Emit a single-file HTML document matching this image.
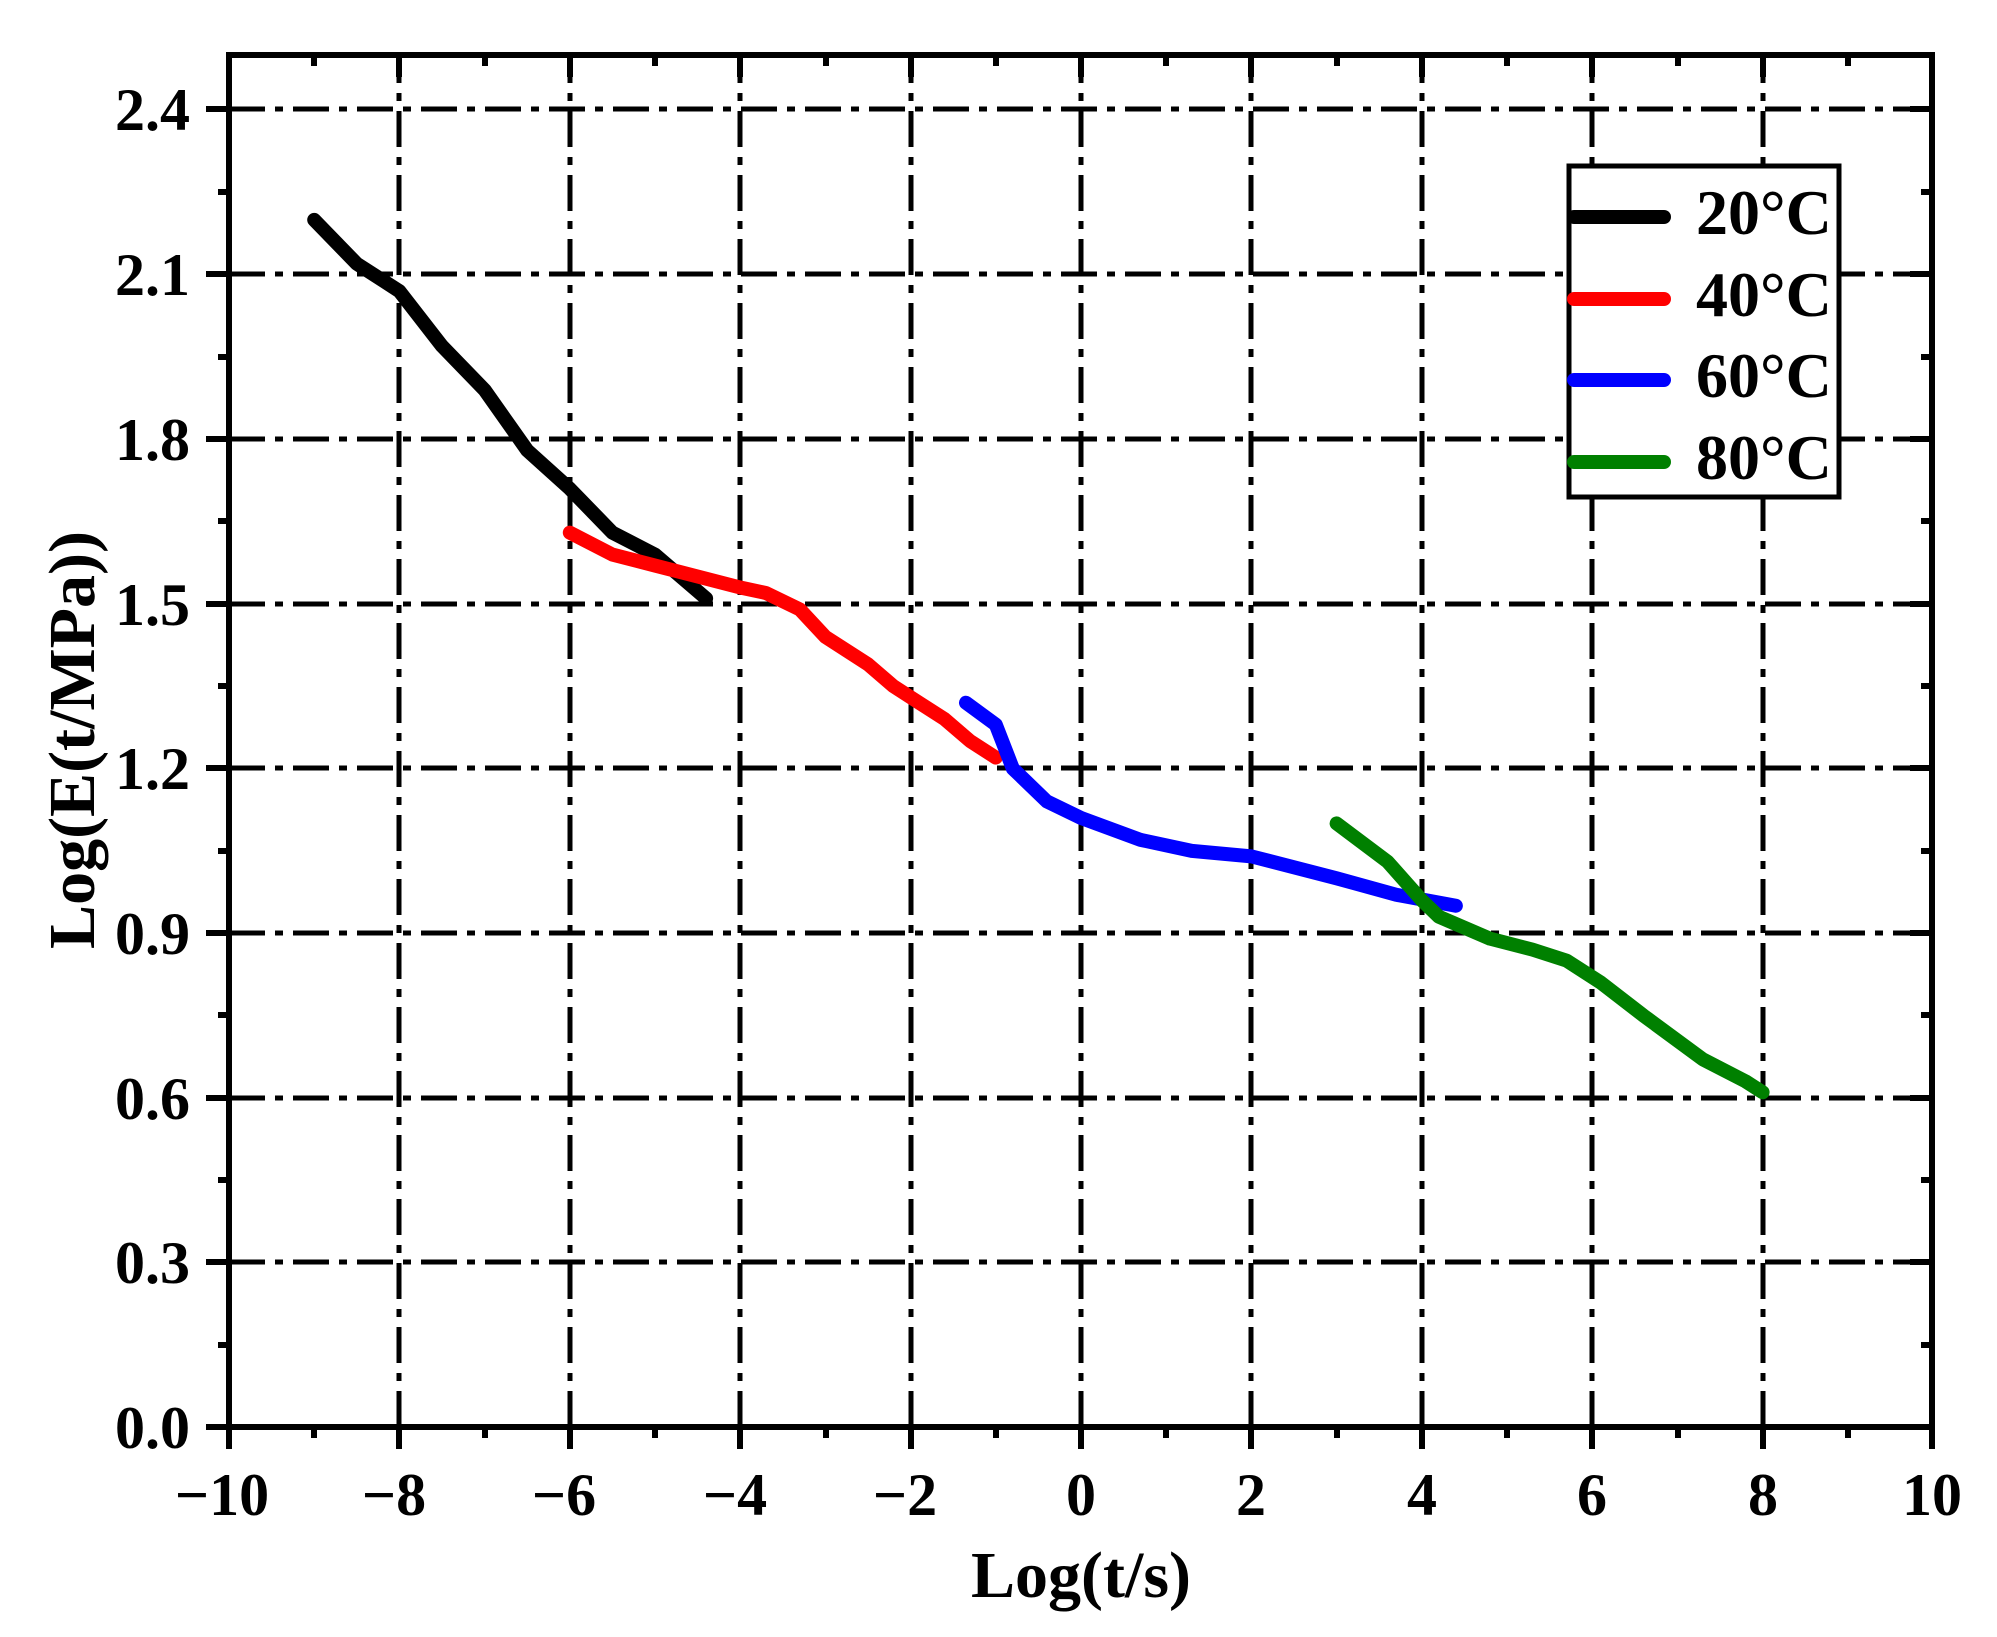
<!DOCTYPE html>
<html><head><meta charset="utf-8"><style>
html,body{margin:0;padding:0;background:#fff;}
svg{display:block;}
text{font-family:"Liberation Serif",serif;font-weight:bold;fill:#000;}
</style></head><body>
<svg width="1997" height="1637" viewBox="0 0 1997 1637" xmlns="http://www.w3.org/2000/svg">
<g stroke="#000" stroke-width="5" stroke-dasharray="36,10,8,10" fill="none">
<line x1="229" y1="1262" x2="1932" y2="1262"/>
<line x1="229" y1="1098" x2="1932" y2="1098"/>
<line x1="229" y1="933" x2="1932" y2="933"/>
<line x1="229" y1="768" x2="1932" y2="768"/>
<line x1="229" y1="604" x2="1932" y2="604"/>
<line x1="229" y1="439" x2="1932" y2="439"/>
<line x1="229" y1="274" x2="1932" y2="274"/>
<line x1="229" y1="109" x2="1932" y2="109"/>
<line x1="399" y1="1427" x2="399" y2="55"/>
<line x1="570" y1="1427" x2="570" y2="55"/>
<line x1="740" y1="1427" x2="740" y2="55"/>
<line x1="911" y1="1427" x2="911" y2="55"/>
<line x1="1081" y1="1427" x2="1081" y2="55"/>
<line x1="1251" y1="1427" x2="1251" y2="55"/>
<line x1="1422" y1="1427" x2="1422" y2="55"/>
<line x1="1592" y1="1427" x2="1592" y2="55"/>
<line x1="1763" y1="1427" x2="1763" y2="55"/>
</g>
<g transform="translate(229,1427) scale(85.2,-548.7)" fill="none" stroke-width="14" stroke-linejoin="round" stroke-linecap="round">
<polyline vector-effect="non-scaling-stroke" stroke="#000" points="1,2.2 1.5,2.12 2,2.07 2.5,1.97 3,1.89 3.5,1.78 4,1.71 4.5,1.63 5,1.59 5.6,1.51"/>
<polyline vector-effect="non-scaling-stroke" stroke="#ff0000" points="4,1.63 4.5,1.59 5,1.57 5.5,1.55 6,1.53 6.3,1.52 6.7,1.49 7,1.44 7.5,1.39 7.8,1.35 8.1,1.32 8.4,1.29 8.7,1.25 9,1.22"/>
<polyline vector-effect="non-scaling-stroke" stroke="#0000ff" points="8.65,1.32 9,1.28 9.2,1.2 9.6,1.14 10,1.11 10.7,1.07 11.3,1.05 12,1.04 13,1.0 13.7,0.97 14.4,0.95"/>
<polyline vector-effect="non-scaling-stroke" stroke="#008000" points="13,1.1 13.6,1.03 14,0.96 14.2,0.93 14.8,0.89 15.3,0.87 15.7,0.85 16.1,0.81 16.6,0.75 17.3,0.67 17.8,0.63 18,0.61"/>
</g>
<rect x="229" y="55" width="1703" height="1372" fill="none" stroke="#000" stroke-width="6"/>
<g stroke="#000" stroke-width="6">
<line x1="206" y1="1427" x2="229" y2="1427"/><line x1="206" y1="1262" x2="229" y2="1262"/><line x1="206" y1="1098" x2="229" y2="1098"/><line x1="206" y1="933" x2="229" y2="933"/><line x1="206" y1="768" x2="229" y2="768"/><line x1="206" y1="604" x2="229" y2="604"/><line x1="206" y1="439" x2="229" y2="439"/><line x1="206" y1="274" x2="229" y2="274"/><line x1="206" y1="109" x2="229" y2="109"/>
<line x1="218" y1="1345" x2="229" y2="1345"/><line x1="218" y1="1180" x2="229" y2="1180"/><line x1="218" y1="1015" x2="229" y2="1015"/><line x1="218" y1="851" x2="229" y2="851"/><line x1="218" y1="686" x2="229" y2="686"/><line x1="218" y1="521" x2="229" y2="521"/><line x1="218" y1="357" x2="229" y2="357"/><line x1="218" y1="192" x2="229" y2="192"/>
<line x1="1910" y1="1262" x2="1932" y2="1262"/><line x1="1910" y1="1098" x2="1932" y2="1098"/><line x1="1910" y1="933" x2="1932" y2="933"/><line x1="1910" y1="768" x2="1932" y2="768"/><line x1="1910" y1="604" x2="1932" y2="604"/><line x1="1910" y1="439" x2="1932" y2="439"/><line x1="1910" y1="274" x2="1932" y2="274"/><line x1="1910" y1="109" x2="1932" y2="109"/>
<line x1="1921" y1="1345" x2="1932" y2="1345"/><line x1="1921" y1="1180" x2="1932" y2="1180"/><line x1="1921" y1="1015" x2="1932" y2="1015"/><line x1="1921" y1="851" x2="1932" y2="851"/><line x1="1921" y1="686" x2="1932" y2="686"/><line x1="1921" y1="521" x2="1932" y2="521"/><line x1="1921" y1="357" x2="1932" y2="357"/><line x1="1921" y1="192" x2="1932" y2="192"/>
<line x1="229" y1="1427" x2="229" y2="1449"/><line x1="399" y1="1427" x2="399" y2="1449"/><line x1="570" y1="1427" x2="570" y2="1449"/><line x1="740" y1="1427" x2="740" y2="1449"/><line x1="911" y1="1427" x2="911" y2="1449"/><line x1="1081" y1="1427" x2="1081" y2="1449"/><line x1="1251" y1="1427" x2="1251" y2="1449"/><line x1="1422" y1="1427" x2="1422" y2="1449"/><line x1="1592" y1="1427" x2="1592" y2="1449"/><line x1="1763" y1="1427" x2="1763" y2="1449"/><line x1="1932" y1="1427" x2="1932" y2="1449"/>
<line x1="314" y1="1427" x2="314" y2="1438"/><line x1="485" y1="1427" x2="485" y2="1438"/><line x1="655" y1="1427" x2="655" y2="1438"/><line x1="826" y1="1427" x2="826" y2="1438"/><line x1="996" y1="1427" x2="996" y2="1438"/><line x1="1166" y1="1427" x2="1166" y2="1438"/><line x1="1337" y1="1427" x2="1337" y2="1438"/><line x1="1507" y1="1427" x2="1507" y2="1438"/><line x1="1678" y1="1427" x2="1678" y2="1438"/><line x1="1848" y1="1427" x2="1848" y2="1438"/>
<line x1="399" y1="55" x2="399" y2="77"/><line x1="570" y1="55" x2="570" y2="77"/><line x1="740" y1="55" x2="740" y2="77"/><line x1="911" y1="55" x2="911" y2="77"/><line x1="1081" y1="55" x2="1081" y2="77"/><line x1="1251" y1="55" x2="1251" y2="77"/><line x1="1422" y1="55" x2="1422" y2="77"/><line x1="1592" y1="55" x2="1592" y2="77"/><line x1="1763" y1="55" x2="1763" y2="77"/>
<line x1="314" y1="55" x2="314" y2="66"/><line x1="485" y1="55" x2="485" y2="66"/><line x1="655" y1="55" x2="655" y2="66"/><line x1="826" y1="55" x2="826" y2="66"/><line x1="996" y1="55" x2="996" y2="66"/><line x1="1166" y1="55" x2="1166" y2="66"/><line x1="1337" y1="55" x2="1337" y2="66"/><line x1="1507" y1="55" x2="1507" y2="66"/><line x1="1678" y1="55" x2="1678" y2="66"/><line x1="1848" y1="55" x2="1848" y2="66"/>
</g>
<g font-size="60" text-anchor="end">
<text x="190" y="1448">0.0</text><text x="190" y="1283">0.3</text><text x="190" y="1119">0.6</text><text x="190" y="954">0.9</text><text x="190" y="789">1.2</text><text x="190" y="625">1.5</text><text x="190" y="460">1.8</text><text x="190" y="295">2.1</text><text x="190" y="130">2.4</text>
</g>
<g font-size="60" text-anchor="middle">
<text x="222" y="1515">−10</text><text x="394" y="1515">−8</text><text x="564" y="1515">−6</text><text x="735" y="1515">−4</text><text x="905" y="1515">−2</text><text x="1081" y="1515">0</text><text x="1251" y="1515">2</text><text x="1422" y="1515">4</text><text x="1592" y="1515">6</text><text x="1763" y="1515">8</text><text x="1932" y="1515">10</text>
</g>
<text x="1081" y="1597" font-size="66" text-anchor="middle">Log(t/s)</text>
<text transform="translate(94,740) rotate(-90)" font-size="66" text-anchor="middle">Log(E(t/MPa))</text>
<rect x="1569" y="166" width="270" height="331" fill="#fff" stroke="#000" stroke-width="5"/>
<g stroke-width="14" stroke-linecap="round">
<line x1="1574" y1="217" x2="1664" y2="217" stroke="#000"/>
<line x1="1574" y1="299" x2="1664" y2="299" stroke="#ff0000"/>
<line x1="1574" y1="380" x2="1664" y2="380" stroke="#0000ff"/>
<line x1="1574" y1="462" x2="1664" y2="462" stroke="#008000"/>
</g>
<g font-size="64">
<text x="1696" y="234">20°C</text><text x="1696" y="316">40°C</text><text x="1696" y="397">60°C</text><text x="1696" y="479">80°C</text>
</g>
</svg>
</body></html>
